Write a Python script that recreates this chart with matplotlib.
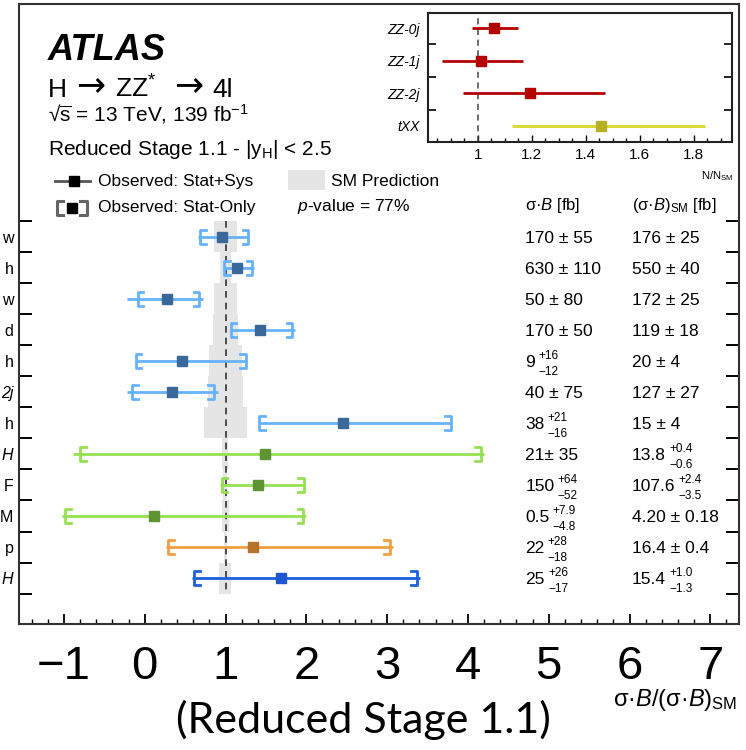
import matplotlib
matplotlib.use("Agg")

import matplotlib.pyplot as plt
import matplotlib.transforms as mtransforms


plt.rcParams["font.family"] = ["Liberation Sans", "DejaVu Sans"]
plt.rcParams["mathtext.fontset"] = "custom"
plt.rcParams["mathtext.rm"] = "Liberation Sans"
plt.rcParams["mathtext.it"] = "Liberation Sans:italic"
plt.rcParams["mathtext.bf"] = "Liberation Sans:bold"
plt.rcParams["mathtext.fallback"] = "stixsans"


# main panel: one row per reduced stage 1.1 bin (top to bottom)
row_labels = ["w", "h", "w", "d", "h", "2j", "h", "H", "F", "M", "p", "H"]
row_italic = [False, False, False, False, False, True, False, True, False, False, False, True]

obs = [0.953, 1.146, 0.276, 1.427, 0.462, 0.338, 2.458, 1.489, 1.398, 0.111, 1.340, 1.687]
tot_lo = [0.663, 0.965, -0.223, 1.05, -0.111, -0.215, 1.41, -0.884, 0.93, -1.02, 0.264, 0.582]
tot_hi = [1.295, 1.357, 0.718, 1.86, 1.27, 0.911, 3.80, 4.20, 1.98, 2.0, 3.07, 3.41]
stat_lo = [0.684, 0.98, -0.087, 1.064, -0.111, -0.153, 1.418, -0.80, 0.953, -0.983, 0.292, 0.61]
stat_hi = [1.282, 1.33, 0.676, 1.827, 1.254, 0.858, 3.787, 4.16, 1.97, 1.963, 3.036, 3.366]

sm_lo = [0.858, 0.927, 0.855, 0.849, 0.80, 0.787, 0.733, 0.957, 0.967, 0.957, 0.976, 0.916]
sm_hi = [1.142, 1.073, 1.145, 1.151, 1.20, 1.213, 1.267, 1.029, 1.022, 1.043, 1.024, 1.065]

line_colors = ["#66B2FF"] * 7 + ["#96E050"] * 3 + ["#F0A040", "#1E5FDC"]
marker_colors = ["#3A6999"] * 7 + ["#5F9432"] * 3 + ["#B47328", "#1E55D0"]

# table columns: value, up error, down error (None -> symmetric text)
obs_val = ["170 ± 55", "630 ± 110", "50 ± 80", "170 ± 50", "9", "40 ± 75",
           "38", "21± 35", "150", "0.5", "22", "25"]
obs_up = [None, None, None, None, "+16", None, "+21", None, "+64", "+7.9", "+28", "+26"]
obs_dn = [None, None, None, None, "−12", None, "−16", None, "−52", "−4.8", "−18", "−17"]

sm_val = ["176 ± 25", "550 ± 40", "172 ± 25", "119 ± 18", "20 ± 4", "127 ± 27",
          "15 ± 4", "13.8", "107.6", "4.20 ± 0.18", "16.4 ± 0.4", "15.4"]
sm_up = [None, None, None, None, None, None, None, "+0.4", "+2.4", None, None, "+1.0"]
sm_dn = [None, None, None, None, None, None, None, "−0.6", "−3.5", None, None, "−1.3"]

x_ticks = [-1, 0, 1, 2, 3, 4, 5, 6, 7]
x_tick_labels = ["−1", "0", "1", "2", "3", "4", "5", "6", "7"]

# inset: background normalisations
bkg_labels = ["ZZ-0j", "ZZ-1j", "ZZ-2j", "tXX"]
bkg_val = [1.060, 1.011, 1.195, 1.457]
bkg_lo = [0.978, 0.869, 0.946, 1.128]
bkg_hi = [1.148, 1.167, 1.471, 1.842]
bkg_line_colors = ["#B40000", "#B40000", "#B40000", "#D8D828"]
bkg_marker_colors = ["#B40000", "#B40000", "#B40000", "#B8B024"]
inset_ticks = [1.0, 1.2, 1.4, 1.6, 1.8]


fig = plt.figure(figsize=(7.46, 7.5), dpi=100)
ax = fig.add_axes([19 / 746, 1 - 624 / 750, 720 / 746, 620 / 750])

n = len(obs)
rows = list(range(n))

# SM prediction band
for i in rows:
    ax.fill_betweenx([i - 0.5, i + 0.5], sm_lo[i], sm_hi[i],
                     color="#E5E5E5", lw=0, zorder=1)

ax.plot([1, 1], [-0.5, n - 0.5], color="#333333", lw=1.2,
        ls=(0, (4, 3)), zorder=2)

h = 0.23
d = 0.07
for i in rows:
    c = line_colors[i]
    ax.plot([tot_lo[i], tot_hi[i]], [i, i], color=c, lw=2.0, zorder=3,
            solid_capstyle="butt")
    ax.plot([stat_lo[i] + d, stat_lo[i], stat_lo[i], stat_lo[i] + d],
            [i - h, i - h, i + h, i + h], color=c, lw=2.0, zorder=3)
    ax.plot([stat_hi[i] - d, stat_hi[i], stat_hi[i], stat_hi[i] - d],
            [i - h, i - h, i + h, i + h], color=c, lw=2.0, zorder=3)
    ax.plot(obs[i], i, marker="s", ms=7.5, color=marker_colors[i],
            mec=marker_colors[i], zorder=4)

ax.set_xlim(-1.556, 7.355)
ax.set_ylim(12.48, -7.5)

ax.set_xticks(x_ticks)
ax.set_xticklabels(x_tick_labels, fontsize=34)
ax.set_xticks([v / 5 for v in range(-7, 37)], minor=True)
ax.tick_params(axis="x", which="major", direction="in", length=7, width=1.3,
               pad=15, top=False)
ax.tick_params(axis="x", which="minor", direction="in", length=3.5,
               width=1.0, top=False)

ax.set_yticks([i - 0.5 for i in range(n + 1)])
ax.set_yticklabels([])
ax.tick_params(axis="y", which="major", direction="in", length=9.5,
               width=1.4, left=True, right=True)
ax.set_yticks(rows, minor=True)
ax.set_yticklabels(row_labels, minor=True)
ax.tick_params(axis="y", which="minor", length=0, pad=4, labelsize=11.5)
for lab, it in zip(ax.get_yticklabels(minor=True), row_italic):
    if it:
        lab.set_style("italic")

for s in ax.spines.values():
    s.set_linewidth(1.5)
    s.set_color("#333333")

# table of cross sections
tr = mtransforms.blended_transform_factory(ax.transAxes, ax.transData)
ax.text(0.703, -1, r"σ·$B$ [fb]", transform=tr, fontsize=12, va="center")
ax.text(0.851, -1, r"(σ·$B$)$_{\rm SM}$ [fb]", transform=tr, fontsize=12,
        va="center")


def table_entry(xpos, i, val, up, dn):
    t = ax.text(xpos, i + 0.05, val, transform=tr, fontsize=12.5, va="center")
    if up is not None:
        ax.annotate(up, xy=(1, 0.5), xycoords=t, xytext=(2.5, 4.5),
                    textcoords="offset points", fontsize=8.5, va="center")
        ax.annotate(dn, xy=(1, 0.5), xycoords=t, xytext=(2.5, -7),
                    textcoords="offset points", fontsize=8.5, va="center")


for i in rows:
    table_entry(0.703, i, obs_val[i], obs_up[i], obs_dn[i])
    table_entry(0.851, i, sm_val[i], sm_up[i], sm_dn[i])

# labels top left
ta = ax.transAxes
ax.text(0.0403, 0.9097, "ATLAS", transform=ta, fontsize=26,
        weight="bold", style="italic", va="baseline")
hy = 0.8497
ax.text(0.0403, hy, "H", transform=ta, fontsize=19, va="baseline")
ax.text(0.0786, hy + 0.003, "→", transform=ta, fontsize=25, va="baseline",
        family="DejaVu Sans")
ax.text(0.1333, hy, "ZZ$^{*}$", transform=ta, fontsize=19, va="baseline")
ax.text(0.2147, hy + 0.003, "→", transform=ta, fontsize=25, va="baseline",
        family="DejaVu Sans")
ax.text(0.268, hy, "4l", transform=ta, fontsize=19, va="baseline")
ax.text(0.0403, 0.8115, r"√$\overline{\mathrm{s}}$ = 13 TeV, 139 fb$^{-1}$",
        transform=ta, fontsize=15, va="baseline")
ax.text(0.0403, 0.7565, r"Reduced Stage 1.1 - |y$_{\rm H}$| < 2.5",
        transform=ta, fontsize=15, va="baseline")

# legend
ax.plot([0.05, 0.0986], [0.7145, 0.7145], color="#555555", lw=2, transform=ta)
ax.plot(0.0764, 0.7145, marker="s", ms=7.5, color="black", transform=ta)
ax.text(0.1097, 0.7145, "Observed: Stat+Sys", transform=ta, fontsize=12.5,
        va="center")
bh = 0.0113
ax.plot([0.0611, 0.0528, 0.0528, 0.0611], [0.671 - bh, 0.671 - bh, 0.671 + bh, 0.671 + bh],
        color="#666666", lw=2.2, transform=ta)
ax.plot([0.0847, 0.0944, 0.0944, 0.0847], [0.671 - bh, 0.671 - bh, 0.671 + bh, 0.671 + bh],
        color="#666666", lw=2.2, transform=ta)
ax.plot(0.0736, 0.671, marker="s", ms=7.5, color="black", transform=ta)
ax.text(0.1097, 0.671, "Observed: Stat-Only", transform=ta, fontsize=12.5,
        va="center")
ax.fill_between([0.3736, 0.425], 0.70, 0.7323, color="#E5E5E5", lw=0,
                transform=ta)
ax.text(0.4333, 0.7145, "SM Prediction", transform=ta, fontsize=12.5,
        va="center")
ax.text(0.386, 0.674, r"$p$-value = 77%", transform=ta, fontsize=12.5,
        va="center")

fig.text(737 / 746, 1 - 700 / 750, r"σ·$B$/(σ·$B$)$_{\rm SM}$", fontsize=17,
         ha="right", va="center")
fig.text(0.487, 0.04, "(Reduced Stage 1.1)", fontsize=31, family="Lato",
         ha="center", va="center")

# inset panel
axi = fig.add_axes([428 / 746, 1 - 142 / 750, 304 / 746, 129 / 750])
for i in range(len(bkg_val)):
    axi.plot([bkg_lo[i], bkg_hi[i]], [i, i], color=bkg_line_colors[i], lw=2.0,
             solid_capstyle="butt", zorder=3)
    axi.plot(bkg_val[i], i, marker="s", ms=7, color=bkg_marker_colors[i], zorder=4)
axi.axvline(1.0, color="#444444", lw=1.1, ls=(0, (4, 3)), zorder=2)
axi.set_xlim(0.816, 1.942)
axi.set_ylim(3.49, -0.46)
axi.set_xticks(inset_ticks)
axi.set_xticklabels(["1", "1.2", "1.4", "1.6", "1.8"])
axi.set_xticks([0.85 + 0.05 * k for k in range(22)], minor=True)
axi.tick_params(axis="x", which="major", direction="in", length=5, width=1.0,
                labelsize=11, pad=4)
axi.tick_params(axis="x", which="minor", direction="in", length=3, width=1.0)
axi.set_yticks([0.5, 1.5, 2.5])
axi.set_yticklabels([])
axi.tick_params(axis="y", which="major", direction="in", length=6, width=1.2,
                left=True, right=True)
axi.set_yticks(range(len(bkg_labels)), minor=True)
axi.set_yticklabels(bkg_labels, minor=True, style="italic")
axi.tick_params(axis="y", which="minor", length=0, pad=6, labelsize=10)
for s in axi.spines.values():
    s.set_linewidth(1.5)
    s.set_color("#222222")
fig.text(733 / 746, 1 - 176 / 750, r"N/N$_{\rm SM}$", fontsize=8,
         ha="right", va="center")

fig.savefig("out.png", dpi=100)
